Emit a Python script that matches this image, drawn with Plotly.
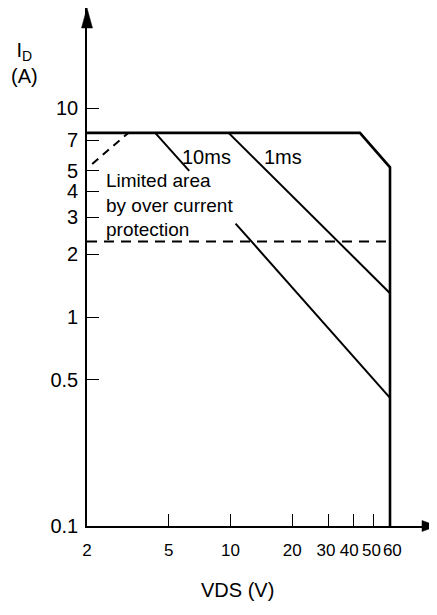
import numpy as np
import plotly.graph_objects as go

# ---- data ----
x_ticks = [2, 5, 10, 20, 30, 40, 50, 60]
x_tick_text = ["2", "5", "10", "20", "30&nbsp;", "40&nbsp;&nbsp;", "50&nbsp;", "&nbsp;60"]
y_ticks = [0.1, 0.5, 1, 2, 3, 4, 5, 7, 10]
y_tick_text = ["0.1", "0.5", "1", "2", "3", "4", "5", "7", "10"]

# DC boundary
dc_vds = [2, 42.8, 60, 60]
dc_id = [7.6, 7.6, 5.2, 0.1]

# 10 ms line (drawn in two pieces, broken around the text as in the reference)
ms10_vds = [4.3, 6.3, None, 10.6, 60]
ms10_id = [7.6, 5.0, None, 2.8, 0.41]

# 1 ms line
ms1_vds = [9.8, 60]
ms1_id = [7.6, 1.3]

# over-current protection limits (dashed)
ocp_diag_vds = [2.12, 3.18]
ocp_diag_id = [5.4, 7.6]

ocp_lim_vds = [2, 60]
ocp_lim_id = [2.3, 2.3]

FONT = "Liberation Sans, Arial, sans-serif"
OFF = 8  # page body margin
W, H = 429, 607
ML, MR, MT, MB = 79, 0, 0, 89
PW, PH = W - ML - MR, H - MT - MB

kx = 303 / (np.log10(60) - np.log10(2))
x_range = [np.log10(2), np.log10(2) + PW / kx]
ky = 209.0
y_range = [np.log10(0.1), np.log10(0.1) + PH / ky]

fig = go.Figure()

def line(x, y, w, dash="solid"):
    fig.add_trace(go.Scatter(x=x, y=y, mode="lines", connectgaps=False,
                             line=dict(color="black", width=w, dash=dash),
                             hoverinfo="skip", showlegend=False, cliponaxis=False))

line(dc_vds, dc_id, 2.6)
line(ms10_vds, ms10_id, 2.0)
line(ms1_vds, ms1_id, 2.0)
line(ocp_diag_vds, ocp_diag_id, 2.0, dash="8px,6px")
line(ocp_lim_vds, ocp_lim_id, 2.0, dash="10px,7px")

def px_x(page_px):
    return (page_px - OFF - ML) / PW

def px_y(page_py):
    return (H - MB - (page_py - OFF)) / PH

tf = dict(family=FONT, size=20, color="black")

fig.add_annotation(x=np.log10(5.68), y=np.log10(5.83), text="10ms", showarrow=False,
                   xanchor="left", yanchor="middle", font=tf)
fig.add_annotation(x=np.log10(14.26), y=np.log10(5.83), text="1ms", showarrow=False,
                   xanchor="left", yanchor="middle", font=tf)
fig.add_annotation(x=np.log10(2.42), y=np.log10(3.45),
                   text="Limited area<br>by over current<br>protection", showarrow=False,
                   align="left", xanchor="left", yanchor="middle",
                   font=dict(family=FONT, size=19, color="black"))

fig.add_annotation(xref="paper", yref="paper", x=px_x(24), y=px_y(63),
                   text="I<sub>D</sub><br>(A)", showarrow=False, align="center",
                   xanchor="center", yanchor="middle", font=tf)
fig.add_annotation(xref="paper", yref="paper", x=px_x(237), y=px_y(590),
                   text="VDS (V)", showarrow=False, xanchor="center", yanchor="middle",
                   font=tf)

def tri(p1, p2, p3):
    path = "M " + " L ".join(f"{px_x(a):.5f},{px_y(b):.5f}" for a, b in (p1, p2, p3)) + " Z"
    fig.add_shape(type="path", xref="paper", yref="paper", path=path,
                  fillcolor="black", line=dict(color="black", width=0.5))

tri((87, 8), (81.5, 28), (92.5, 28))
tri((437, 526), (422, 520.5), (422, 531.5))

fig.update_xaxes(type="log", range=x_range, tickvals=x_ticks, ticktext=x_tick_text,
                 ticks="inside", ticklen=12, tickwidth=1, tickcolor="black",
                 showline=True, linecolor="black", linewidth=1.6, showgrid=False, zeroline=False,
                 tickangle=0, tickfont=dict(family=FONT, size=17, color="black"),
                 ticklabelstandoff=8)
fig.update_yaxes(type="log", range=y_range, tickvals=y_ticks, ticktext=y_tick_text,
                 ticks="inside", ticklen=12, tickwidth=1, tickcolor="black",
                 showline=True, linecolor="black", linewidth=1.6, showgrid=False, zeroline=False,
                 tickfont=dict(family=FONT, size=20, color="black"),
                 ticklabelstandoff=3)

fig.update_layout(width=W, height=H, margin=dict(l=ML, r=MR, t=MT, b=MB, pad=0),
                  paper_bgcolor="white", plot_bgcolor="white", showlegend=False)

fig.write_html("out.html")
